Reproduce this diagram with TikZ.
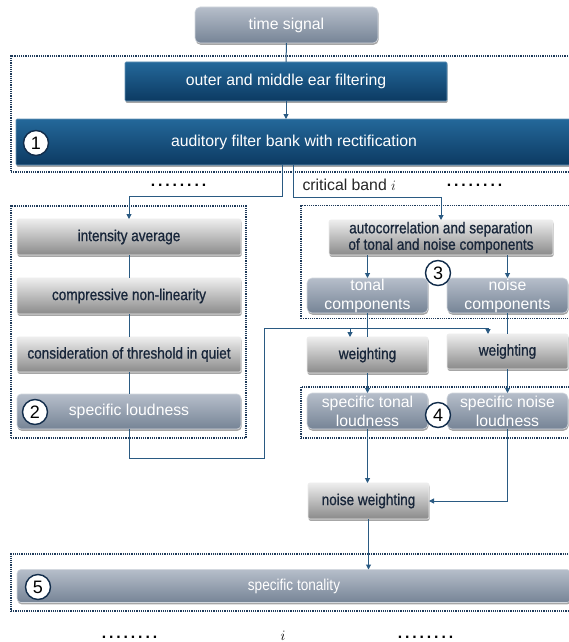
\documentclass[tikz,border=0pt]{standalone}
\usepackage{fontspec}
\setmainfont{Liberation Sans}
\newfontfamily\narrowf[FakeStretch=0.86,FakeBold=0.8]{Liberation Sans}
\newfontfamily\narrowwf[FakeStretch=0.86]{Liberation Sans}
\usetikzlibrary{shadows,arrows.meta}
\definecolor{dblueT}{RGB}{36,104,154}
\definecolor{dblueB}{RGB}{12,58,98}
\definecolor{grayT}{RGB}{238,238,238}
\definecolor{grayB}{RGB}{138,138,138}
\definecolor{bgT}{RGB}{182,190,202}
\definecolor{bgB}{RGB}{118,132,150}
\definecolor{navytext}{RGB}{24,38,58}
\definecolor{connc}{RGB}{42,90,130}
\definecolor{dotc}{RGB}{30,58,90}
\definecolor{circc}{RGB}{18,45,75}
\newcommand\fsN{\fontsize{15.8}{19}\selectfont}
\newcommand\fsG{\narrowf\fontsize{15.8}{16.5}\selectfont}
\newcommand\dotrow{\textbf{.}\hspace{2.9pt}\textbf{.}\hspace{2.9pt}\textbf{.}\hspace{2.9pt}\textbf{.}\hspace{2.9pt}\textbf{.}\hspace{2.9pt}\textbf{.}\hspace{2.9pt}\textbf{.}\hspace{2.9pt}\textbf{.}}
\begin{document}
\begin{tikzpicture}[x=1pt,y=-1pt,
  base/.style={inner sep=0pt, outer sep=0pt, align=center,
    drop shadow={shadow xshift=0.6pt,shadow yshift=-1.8pt,opacity=0.35,fill=black}},
  darkbox/.style={base, rounded corners=1pt, top color=dblueT, bottom color=dblueB, draw=dblueT!70!white, line width=0.6pt, text=white, font=\fsN},
  graybox/.style={base, rounded corners=2pt, top color=grayT, bottom color=grayB, draw=white!85!gray, line width=0.6pt, text=navytext, font=\fsG},
  bgbox/.style={base, rounded corners=5pt, top color=bgT, bottom color=bgB, draw=bgT!60!white, line width=0.6pt, text=white, font=\fsN},
  group/.style={draw=dotc, line width=1.2pt, dash pattern=on 1.2pt off 1pt, inner sep=0pt},
  numc/.style={circle, draw=circc, line width=1.4pt, fill=white, minimum size=25pt, inner sep=0pt, font=\fontsize{18}{18}\selectfont, text=black},
  conn/.style={draw=connc, line width=1pt},
  arr/.style={conn, -{Triangle[length=5pt,width=5pt]}}]
\useasboundingbox (0,0) rectangle (569,642);
\fill[white] (0,0) rectangle (569,642);
\clip (0,0) rectangle (569,642);
% groups
\node[group, minimum width=590, minimum height=116] (g1) at (306,114) {};
\node[group, minimum width=235, minimum height=232] (g2) at (128.5,322) {};
\node[group, minimum width=300, minimum height=113] (g3) at (451,262) {};
\node[group, minimum width=300, minimum height=51] (g4) at (451,412.5) {};
\node[group, minimum width=590, minimum height=57] (g5) at (306,582.5) {};
% boxes
\node[bgbox, minimum width=183, minimum height=36] (ts) at (286.5,25) {time signal};
\node[darkbox, minimum width=322, minimum height=39] (ome) at (286,81.5) {outer and middle ear filtering};
\node[darkbox, minimum width=556, minimum height=46] (afb) at (294,142) {auditory filter bank with rectification};
\node[graybox, minimum width=224, minimum height=36] (ia) at (129,237) {intensity average};
\node[graybox, minimum width=224, minimum height=36] (cnl) at (129,296) {compressive non-linearity};
\node[graybox, minimum width=224, minimum height=35] (cti) at (129,354.5) {consideration of threshold in quiet};
\node[bgbox, rounded corners=4pt, minimum width=224, minimum height=35] (sl) at (129,411.5) {specific loudness};
\node[graybox, minimum width=224, minimum height=35] (ac) at (441,237.5) {autocorrelation and separation\\of tonal and noise components};
\node[bgbox, minimum width=121, minimum height=35] (tc) at (367.5,295.5) {tonal\\components};
\node[bgbox, minimum width=121, minimum height=35] (nc) at (507.5,295.5) {noise\\components};
\node[graybox, minimum width=121, minimum height=36] (wl) at (367.5,355) {weighting};
\node[graybox, minimum width=121, minimum height=35] (wr) at (507.5,351.5) {weighting};
\node[bgbox, minimum width=121, minimum height=36] (stl) at (367.5,411) {specific tonal\\loudness};
\node[bgbox, minimum width=121, minimum height=36] (snl) at (507.5,411) {specific noise\\loudness};
\node[graybox, minimum width=121, minimum height=36] (nw) at (368.5,501) {noise weighting};
\node[bgbox, rounded corners=4pt, font=\narrowwf\fontsize{15.8}{16}\selectfont, minimum width=554, minimum height=33] (st) at (294,586) {specific tonality};
% connectors
\coordinate (a1) at (282,165);
\coordinate (a2) at (293,165);
\coordinate (k1) at (282,196);
\coordinate (k2) at (293,197);
\coordinate (b2) at (264,458);
\coordinate (b3) at (264,328);
\coordinate (c1) at (350,328);
\coordinate (c2) at (488,328);
\draw[conn] (ts.south) -- (ome.north);
\draw[arr] (ome.south) -- (ome.south |- afb.north);
\draw[arr] (a1) -- (k1) -| (ia.north);
\draw[arr] (a2) -- (k2) -| (ac.north);
\draw[conn] (ia.south) -- (cnl.north);
\draw[conn] (cnl.south) -- (cti.north);
\draw[conn] (cti.south) -- (sl.north);
\draw[arr] (tc.north |- ac.south) -- (tc.north);
\draw[arr] (nc.north |- ac.south) -- (nc.north);
\draw[conn] (tc.south) -- (wl.north);
\draw[conn] (nc.south) -- (wr.north);
\draw[conn] (sl.south) |- (b2) -- (b3) -- (c2);
\draw[arr] (c1) -- (c1 |- wl.north);
\draw[arr] (c2) -- (c2 |- wr.north);
\draw[arr] (wl.south) -- (stl.north);
\draw[arr] (wr.south) -- (snl.north);
\draw[arr] (stl.south) -- (stl.south |- nw.north);
\draw[arr] (snl.south) |- (nw.east);
\draw[arr] (nw.south) -- (nw.south |- st.north);
% numbers
\node[numc] (n1) at (36,143) {1};
\node[numc] (n2) at (35,412) {2};
\node[numc] (n3) at (438,273) {3};
\node[numc] (n4) at (438,415) {4};
\node[numc] (n5) at (38,587) {5};
% labels
\node[anchor=west, font=\fsN, text=black!85] (cb) at (299,185) {critical band $i$};
\node[font=\fsN] (d1) at (178.5,185) {\dotrow};
\node[font=\fsN] (d2) at (474.5,185) {\dotrow};
\node[font=\fsN] (d3) at (129.5,637) {\dotrow};
\node[font=\fsN] (d4) at (425.5,637) {\dotrow};
\node[font=\fsN] (bi) at (283,636) {$i$};
\end{tikzpicture}
\end{document}
